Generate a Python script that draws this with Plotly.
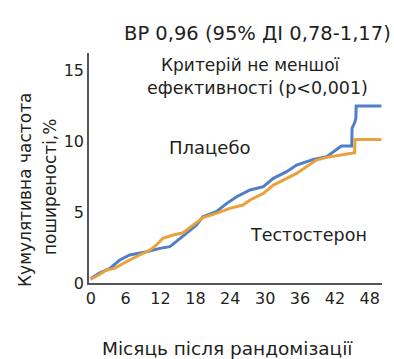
import plotly.graph_objects as go

placebo_month = [0, 0.1, 1.5, 3.3, 5.0, 6.7, 9.6, 11.9, 13.6, 14.7, 16.5, 18.2, 19.3, 21.6, 23.4, 25.1, 27.4,
                 29.7, 31.4, 33.7, 35.4, 38.3, 40.6, 42.3, 43.1, 44.9, 44.95, 45.4, 45.6, 45.65, 50.0]
placebo_val = [0.3, 0.33, 0.7, 1.03, 1.62, 1.97, 2.2, 2.44, 2.56, 2.91, 3.5, 4.08, 4.67, 5.02, 5.61, 6.08, 6.55,
               6.78, 7.37, 7.84, 8.31, 8.71, 8.9, 9.37, 9.65, 9.65, 10.9, 11.3, 11.6, 12.46, 12.46]

testo_month = [0, 0.1, 1.5, 2.7, 4.1, 6.1, 8.4, 10.2, 11.3, 12.4, 14.2, 15.9, 17.6, 19.3, 21.6, 23.9, 26.2, 27.4,
               29.7, 31.4, 33.7, 35.4, 37.1, 38.8, 40.6, 43.1, 45.4, 45.45, 50.0]
testo_val = [0.25, 0.28, 0.6, 0.92, 1.03, 1.5, 1.97, 2.32, 2.68, 3.15, 3.38, 3.54, 4.08, 4.6, 4.9, 5.26, 5.49, 5.85,
             6.31, 6.9, 7.37, 7.72, 8.19, 8.66, 8.85, 9.01, 9.18, 10.1, 10.1]

x_ticks = [0, 6, 12, 18, 24, 30, 36, 42, 48]
y_ticks = [0, 5, 10, 15]

FONT = "DejaVu Sans"
TXT = "#231f20"

fig = go.Figure()
fig.add_trace(go.Scatter(x=placebo_month, y=placebo_val, mode="lines", line=dict(color="#4f7fc9", width=3),
                         name="Плацебо", showlegend=False))
fig.add_trace(go.Scatter(x=testo_month, y=testo_val, mode="lines", line=dict(color="#e9a23a", width=3),
                         name="Тестостерон", showlegend=False))

fig.update_layout(
    width=394, height=359,
    margin=dict(l=89, r=12, t=53, b=76),
    paper_bgcolor="white", plot_bgcolor="white",
    font=dict(family=FONT, color=TXT, size=15),
    xaxis=dict(range=[-0.3, 50.1], tickvals=x_ticks, showgrid=False, zeroline=False, showline=True,
               linecolor="#555", linewidth=1.5, ticks="", tickfont=dict(size=16, color=TXT)),
    yaxis=dict(range=[0, 16.2], tickvals=y_ticks, showgrid=False, zeroline=False, showline=True,
               linecolor="#555", linewidth=1.5, ticks="", tickfont=dict(size=16, color=TXT)),
)

ann = [
    dict(text="ВР 0,96 (95% ДІ 0,78-1,17)", x=257, y=33, size=19.5, angle=0),
    dict(text="Критерій не меншої", x=250, y=65, size=17, angle=0),
    dict(text="ефективності (p<0,001)", x=257, y=88, size=17.5, angle=0),
    dict(text="Плацебо", x=210, y=147, size=18, angle=0),
    dict(text="Тестостерон", x=308, y=235, size=17.5, angle=0),
    dict(text="Місяць після рандомізації", x=227, y=348, size=18.5, angle=0),
    dict(text="Кумулятивна частота", x=25, y=190, size=17, angle=-90),
    dict(text="поширеності,%", x=50, y=187, size=17, angle=-90),
]
for a in ann:
    fig.add_annotation(text=a["text"], xref="paper", yref="paper",
                       x=(a["x"] - 89) / (394 - 89 - 12), y=(359 - 76 - a["y"]) / (359 - 76 - 53),
                       xanchor="center", yanchor="middle", showarrow=False, textangle=a["angle"],
                       font=dict(family=FONT, size=a["size"], color=TXT))

fig.write_html("out.html", config={"displayModeBar": False},
               post_script="document.body.style.margin='0';")
